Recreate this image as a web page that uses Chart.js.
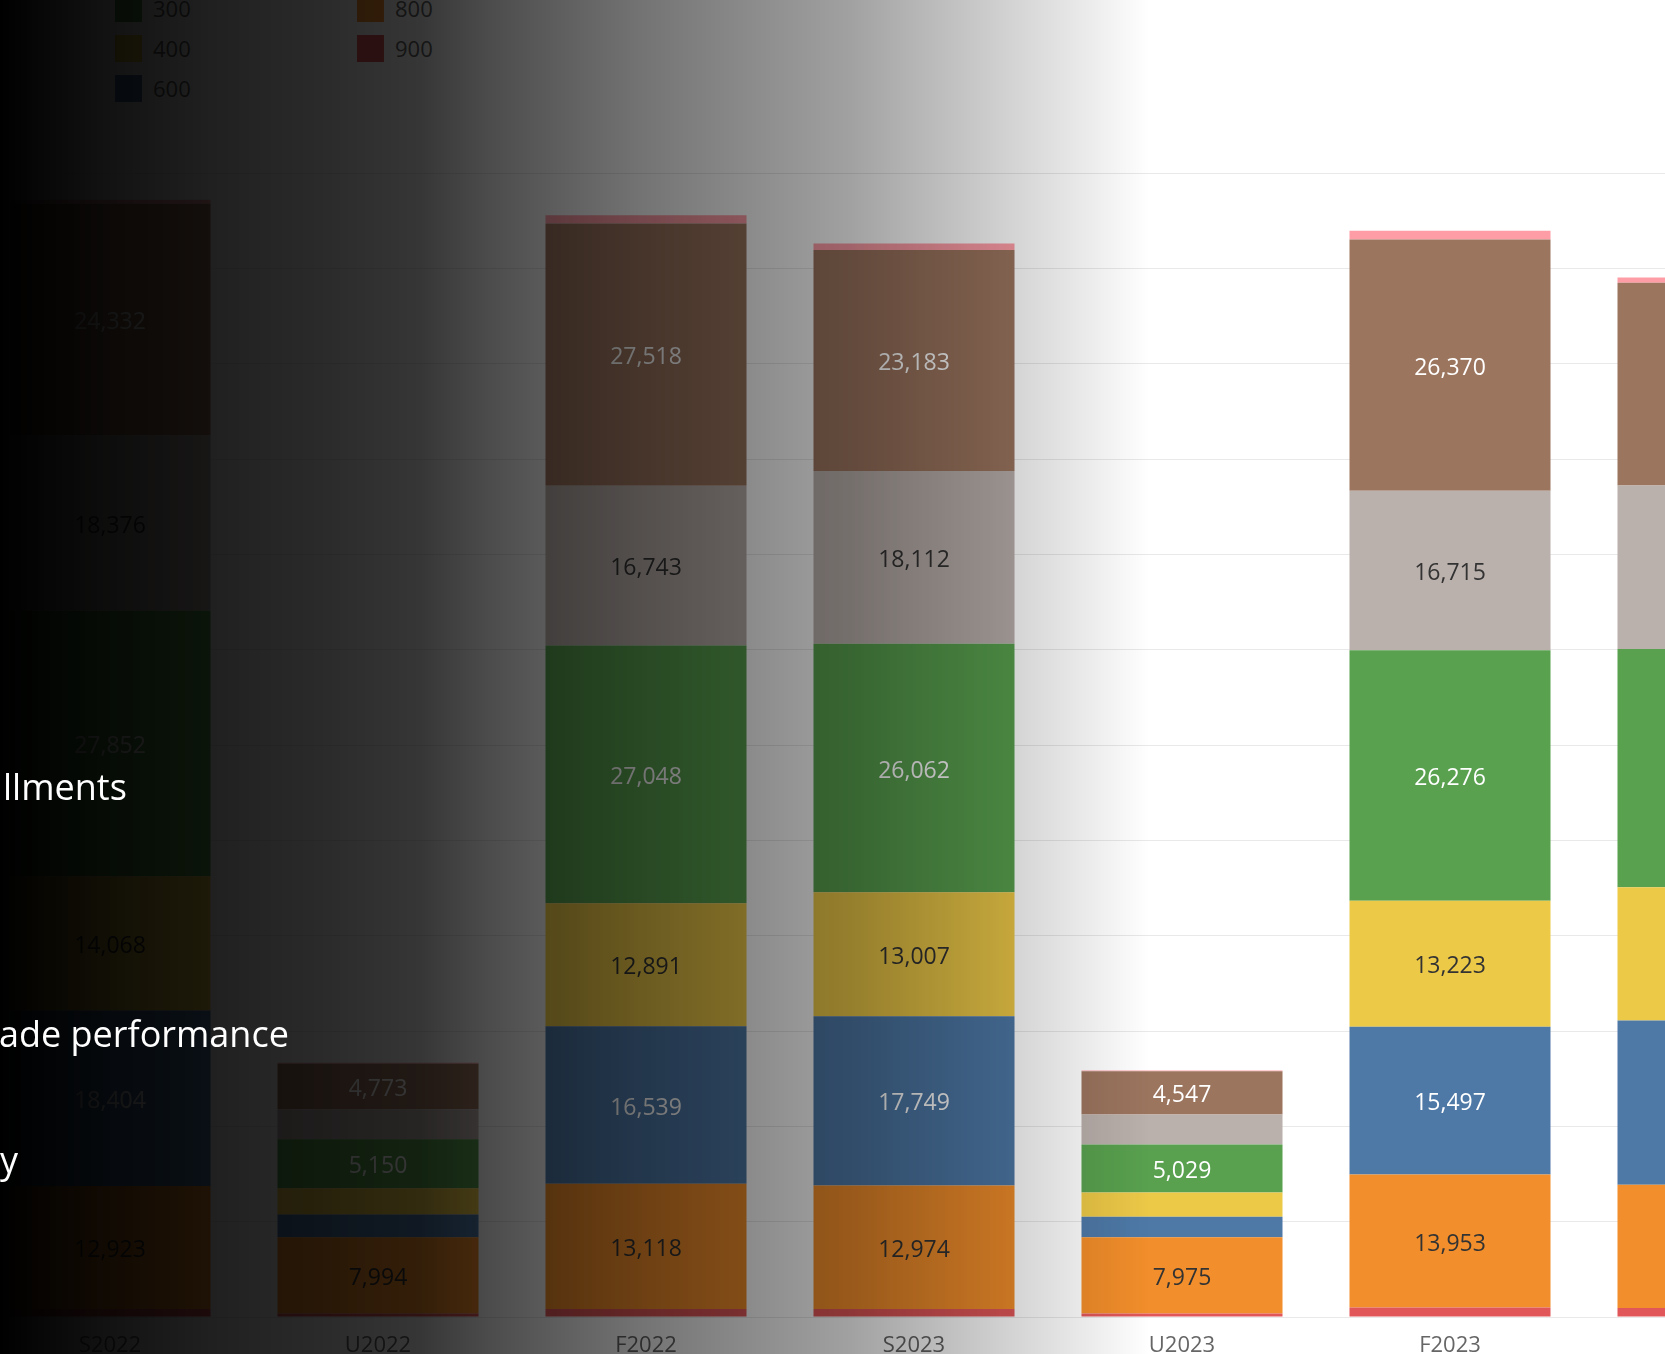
<!DOCTYPE html>
<html>
<head>
<meta charset="utf-8">
<script src="https://cdn.jsdelivr.net/npm/chart.js@4.4.1/dist/chart.umd.min.js"></script>
<style>
  html, body {
    margin: 0;
    padding: 0;
    width: 1665px;
    height: 1354px;
    overflow: hidden;
    background: #ffffff;
    font-family: "Open Sans", sans-serif;
  }
  #chart {
    position: absolute;
    left: -24px;
    top: 163px;
  }
  #legend {
    position: absolute;
    left: -127px;
    top: -12px;
    display: grid;
    grid-template-rows: repeat(3, 40px);
    grid-auto-flow: column;
    grid-auto-columns: 242px;
  }
  .item {
    display: flex;
    align-items: center;
    font-size: 22px;
    color: #666666;
  }
  .swatch {
    width: 27px;
    height: 27px;
    margin-right: 11px;
  }
  #shade {
    position: absolute;
    left: 0;
    top: 0;
    width: 1665px;
    height: 1354px;
    pointer-events: none;
    background: linear-gradient(to right,
      rgba(0,0,0,1) 0px,
      rgba(0,0,0,0.93) 106px,
      rgba(0,0,0,0.875) 212px,
      rgba(0,0,0,0.835) 319px,
      rgba(0,0,0,0.79) 420px,
      rgba(0,0,0,0.70) 490px,
      rgba(0,0,0,0.55) 640px,
      rgba(0,0,0,0.37) 850px,
      rgba(0,0,0,0.24) 956px,
      rgba(0,0,0,0.11) 1062px,
      rgba(0,0,0,0) 1150px);
  }
  .slide {
    position: absolute;
    left: 3px;
    color: #ffffff;
    font-size: 36px;
    line-height: 1;
    white-space: nowrap;
  }
</style>
</head>
<body>
<div id="legend"></div>
<canvas id="chart" width="1876" height="1204"></canvas>
<div id="shade"></div>
<div class="slide" style="top: 769px;">llments</div>
<div class="slide" style="top: 1016px; left: -1px;">ade performance</div>
<div class="slide" style="top: 1142px; left: 0px;">y</div>

<script>
// terms
const terms = ["S2022", "U2022", "F2022", "S2023", "U2023", "F2023", "S2024"];

// course levels, bottom of the stack first
const level900 = [830, 360, 850, 830, 380, 1000, 950];
const level800 = [12923, 7994, 13118, 12974, 7975, 13953, 12930];
const level600 = [18404, 2390, 16539, 17749, 2150, 15497, 17220];
const level400 = [14068, 2750, 12891, 13007, 2550, 13223, 13970];
const level300 = [27852, 5150, 27048, 26062, 5029, 26276, 24990];
const level200 = [18376, 3160, 16743, 18112, 3150, 16715, 17150];
const level100 = [24332, 4773, 27518, 23183, 4547, 26370, 21280];
const level000 = [400, 100, 870, 700, 80, 920, 550];

const yTicks = [0, 10000, 20000, 30000, 40000, 50000, 60000, 70000, 80000, 90000, 100000, 110000, 120000];

const series = [
  { label: "900", data: level900, color: "#e15759", text: "#333333" },
  { label: "800", data: level800, color: "#f28e2b", text: "#333333" },
  { label: "600", data: level600, color: "#4e79a7", text: "#ffffff" },
  { label: "400", data: level400, color: "#edc948", text: "#333333" },
  { label: "300", data: level300, color: "#59a14f", text: "#ffffff" },
  { label: "200", data: level200, color: "#bab0ac", text: "#333333" },
  { label: "100", data: level100, color: "#9c755f", text: "#ffffff" },
  { label: "000", data: level000, color: "#ff9da7", text: "#333333" },
];

// tableau style labels inside the segments that are tall enough
const segmentLabels = {
  id: "segmentLabels",
  afterDatasetsDraw(chart) {
    const ctx = chart.ctx;
    ctx.save();
    ctx.font = "23px 'Open Sans'";
    ctx.textAlign = "center";
    ctx.textBaseline = "middle";
    chart.data.datasets.forEach((ds, i) => {
      const meta = chart.getDatasetMeta(i);
      meta.data.forEach((bar, j) => {
        const p = bar.getProps(["x", "y", "base"], true);
        if (p.base - p.y < 38) return;
        ctx.fillStyle = series[i].text;
        ctx.fillText(ds.data[j].toLocaleString("en-US"), p.x, (p.y + p.base) / 2 + 3);
      });
    });
    ctx.restore();
  },
};

const makechart = () => {
  var options = {
    responsive: false,
    animation: false,
    layout: { padding: { top: 10, left: 0, right: 0, bottom: 0 } },
    plugins: {
      legend: { display: false },
      tooltip: { enabled: false },
    },
    scales: {
      x: {
        stacked: true,
        grid: { display: false, drawTicks: false },
        border: { display: false },
        ticks: {
          color: "#666666",
          padding: 16,
          font: { family: "'Open Sans'", size: 22 },
        },
        afterFit: (scale) => {
          scale.height = 50;
        },
      },
      y: {
        stacked: true,
        min: 0,
        max: 120000,
        afterBuildTicks: (scale) => {
          scale.ticks = yTicks.map((v) => ({ value: v }));
        },
        grid: {
          display: true,
          color: "#e9e9e9",
          lineWidth: 1,
          drawTicks: false,
        },
        border: { display: false },
        ticks: { display: false },
        afterFit: (scale) => {
          scale.width = 0;
        },
      },
    },
  };

  var data = {
    labels: terms,
    datasets: series.map((s) => ({
      label: s.label,
      data: s.data,
      backgroundColor: s.color,
      borderWidth: 0,
      categoryPercentage: 1.0,
      barPercentage: 0.75,
    })),
  };

  return new Chart("chart", {
    type: "bar",
    options: options,
    data: data,
    plugins: [segmentLabels],
  });
};

const chart = makechart();

// legend, first level at the top of the stack comes first
const legend = document.getElementById("legend");
chart.data.datasets.slice().reverse().forEach((ds) => {
  const item = document.createElement("div");
  item.className = "item";
  const sw = document.createElement("div");
  sw.className = "swatch";
  sw.style.background = ds.backgroundColor;
  const tx = document.createElement("span");
  tx.textContent = ds.label;
  item.appendChild(sw);
  item.appendChild(tx);
  legend.appendChild(item);
});
</script>
</body>
</html>
